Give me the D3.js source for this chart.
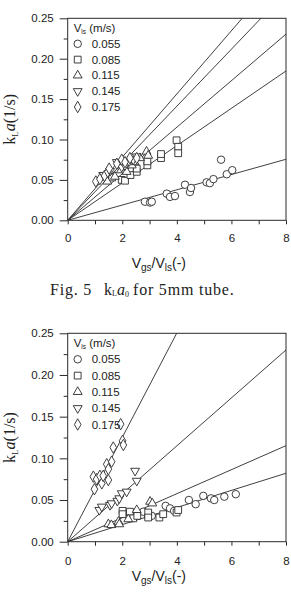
<!DOCTYPE html>
<html><head><meta charset="utf-8">
<script src="https://cdn.jsdelivr.net/npm/d3@7"></script>
<style>
body{margin:0;background:#fff;}
svg{display:block;}
text{fill:#222;}
</style></head>
<body>
<svg id="c" width="291" height="599"></svg>
<script>
// ---- data ----
const seriesLabels = ["0.055","0.085","0.115","0.145","0.175"];
const symbols = ["circle","square","triUp","triDown","diamond"];
const xTicks = [0,2,4,6,8];
const yTicks = [0.00,0.05,0.10,0.15,0.20,0.25];

// top chart (Fig. 5)
const t055x = [2.83,3.02,3.08,3.63,3.75,3.93,4.30,4.48,4.52,5.09,5.21,5.34,5.62,5.83,6.03];
const t055y = [0.023,0.022,0.023,0.033,0.029,0.030,0.044,0.035,0.040,0.047,0.046,0.051,0.075,0.057,0.062];
const t085x = [1.63,1.98,2.10,2.30,2.53,2.53,2.92,2.92,3.42,3.42,3.99,4.05,4.05];
const t085y = [0.053,0.050,0.049,0.056,0.060,0.064,0.068,0.073,0.077,0.082,0.099,0.091,0.083];
const t115x = [1.45,1.73,1.95,2.16,2.35,2.45,2.65,2.89,2.95];
const t115y = [0.048,0.054,0.062,0.060,0.068,0.072,0.077,0.085,0.080];
const t145x = [1.30,1.55,1.80,1.98,2.10,2.25,2.40,2.53];
const t145y = [0.056,0.061,0.072,0.066,0.068,0.073,0.075,0.079];
const t175x = [1.03,1.18,1.35,1.47,1.52,1.80,1.98,2.10,2.28,2.53];
const t175y = [0.048,0.051,0.055,0.060,0.064,0.070,0.075,0.072,0.077,0.077];
const topSlopes = [0.00944,0.0231,0.0288,0.0353,0.0391];

// bottom chart
const b055x = [2.77,2.95,3.08,3.59,3.75,3.90,4.44,4.69,4.97,5.25,5.37,5.74,6.16];
const b055y = [0.036,0.030,0.031,0.043,0.040,0.037,0.050,0.045,0.055,0.052,0.050,0.054,0.057];
const b085x = [2.01,2.01,2.28,2.40,2.55,2.95,2.95,3.36,3.50,3.99,4.05];
const b085y = [0.037,0.033,0.036,0.028,0.031,0.035,0.029,0.029,0.033,0.035,0.038];
const b115x = [1.49,1.60,1.86,1.89,2.22,2.53,3.02,3.10];
const b115y = [0.021,0.020,0.024,0.021,0.027,0.038,0.048,0.046];
const b145x = [1.16,1.25,1.55,1.61,1.82,1.89,1.98,2.16,2.47,2.53];
const b145y = [0.038,0.042,0.044,0.046,0.049,0.052,0.058,0.060,0.085,0.073];
const b175x = [0.94,0.98,1.06,1.18,1.25,1.30,1.43,1.49,1.49,1.61,1.67,1.94,2.01,2.04];
const b175y = [0.078,0.063,0.075,0.079,0.070,0.079,0.093,0.087,0.074,0.096,0.113,0.141,0.121,0.116];
const botSlopes = [0.01026,0.0144,0.02875,0.0626];

// ---- drawing ----
const svg = d3.select("#c");
const INK = "#2a2a2a";
const SANS = "'Liberation Sans', Arial, sans-serif";
const SERIF = "'Liberation Serif', 'Times New Roman', serif";

function symPath(kind){
  switch(kind){
    case "circle": return d3.symbol(d3.symbolCircle, 44)();
    case "square": return d3.symbol(d3.symbolSquare, 46)();
    case "triUp": return d3.symbol(d3.symbolTriangle, 34)();
    case "triDown": return d3.symbol(d3.symbolTriangle, 34)();
    case "diamond": return d3.symbol(d3.symbolDiamond, 38)();
  }
}
function symTransform(kind,x,y){
  return `translate(${x},${y})` + (kind==="triDown" ? " rotate(180)" : "");
}

function drawChart(cfg){
  const g = svg.append("g");
  const x = d3.scaleLinear().domain([0,8]).range([cfg.left,cfg.right]);
  const y = d3.scaleLinear().domain([0,0.25]).range([cfg.bottom,cfg.top]);

  // clip
  const cid = "clip"+cfg.id;
  svg.append("clipPath").attr("id",cid).append("rect")
    .attr("x",cfg.left).attr("y",cfg.top)
    .attr("width",cfg.right-cfg.left).attr("height",cfg.bottom-cfg.top);

  // axes
  const yAxis = d3.axisLeft(y).tickValues(d3.range(0,0.2501,0.025)).tickSize(0).tickFormat("");
  const ya = g.append("g").attr("transform",`translate(${cfg.left},0)`).call(yAxis);
  ya.select(".domain").remove();
  ya.selectAll(".tick line").remove();
  ya.selectAll(".tick").append("line")
    .attr("x1",(d,i)=> i%2===0 ? -8 : -4).attr("x2",0)
    .attr("stroke",INK).attr("stroke-width",1);
  const yl = g.append("g").attr("transform",`translate(${cfg.left},0)`)
    .call(d3.axisLeft(y).tickValues(yTicks).tickSize(0).tickPadding(14).tickFormat(d3.format(".2f")));
  yl.select(".domain").remove();
  yl.selectAll("text").attr("font-family",SANS).attr("font-size",11.5).attr("fill","#222");

  const xAxis = d3.axisBottom(x).tickValues(d3.range(0,8.01,1)).tickSize(4).tickFormat("");
  const xa = g.append("g").attr("transform",`translate(0,${cfg.bottom})`).call(xAxis);
  xa.select(".domain").remove();
  xa.selectAll(".tick line").attr("stroke",INK);
  const xl = g.append("g").attr("transform",`translate(0,${cfg.bottom})`)
    .call(d3.axisBottom(x).tickValues(xTicks).tickSize(0).tickPadding(cfg.xPad).tickFormat(d3.format("d")));
  xl.select(".domain").remove();
  xl.selectAll("text").attr("font-family",SANS).attr("font-size",11.5).attr("fill","#222");

  // frame
  g.append("rect").attr("x",cfg.left).attr("y",cfg.top)
    .attr("width",cfg.right-cfg.left).attr("height",cfg.bottom-cfg.top)
    .attr("fill","none").attr("stroke",INK).attr("stroke-width",1);

  // fit lines
  const lines = g.append("g").attr("clip-path",`url(#${cid})`);
  cfg.slopes.forEach(s=>{
    lines.append("line")
      .attr("x1",x(0)).attr("y1",y(0))
      .attr("x2",x(8)).attr("y2",y(8*s))
      .attr("stroke",INK).attr("stroke-width",0.9);
  });

  // points
  const pts = g.append("g");
  cfg.series.forEach((s,i)=>{
    s.x.forEach((xv,j)=>{
      pts.append("path").attr("d",symPath(symbols[i]))
        .attr("transform",symTransform(symbols[i],x(xv),y(s.y[j])))
        .attr("fill","#fff").attr("stroke",INK).attr("stroke-width",0.9);
    });
  });

  // legend
  const lg = g.append("g");
  const t = lg.append("text").attr("x",cfg.left+6).attr("y",cfg.legTop)
    .attr("font-family",SANS).attr("font-size",11.5);
  t.append("tspan").text("V");
  t.append("tspan").attr("font-size",6.5).attr("dy",2).text("ls");
  t.append("tspan").attr("dy",-2).text(" (m/s)");
  seriesLabels.forEach((lab,i)=>{
    const yy = cfg.legTop + cfg.legStep*(i+1);
    lg.append("path").attr("d",symPath(symbols[i]))
      .attr("transform",symTransform(symbols[i],cfg.left+10,yy-4))
      .attr("fill","#fff").attr("stroke",INK).attr("stroke-width",0.9);
    lg.append("text").attr("x",cfg.left+24).attr("y",yy)
      .attr("font-family",SANS).attr("font-size",11.5).text(lab);
  });

  // y label
  const ylab = g.append("text")
    .attr("transform",`translate(${cfg.ylabX},${(cfg.top+cfg.bottom)/2}) rotate(-90)`)
    .attr("text-anchor","middle").attr("font-family",SERIF).attr("font-size",16);
  ylab.append("tspan").text("k");
  ylab.append("tspan").attr("font-size",9).attr("dy",3).text("L");
  ylab.append("tspan").attr("dy",-3).attr("font-style","italic").text("a");
  ylab.append("tspan").text("(1/s)");

  // x label
  const xlab = g.append("text").attr("x",(cfg.left+cfg.right)/2-18).attr("y",cfg.xlabY)
    .attr("text-anchor","middle").attr("font-family",SANS).attr("font-size",14);
  xlab.append("tspan").text("V");
  xlab.append("tspan").attr("font-size",10).attr("dy",3).text("gs");
  xlab.append("tspan").attr("dy",-3).text("/V");
  xlab.append("tspan").attr("font-size",10).attr("dy",3).text("ls");
  xlab.append("tspan").attr("dy",-3).text("(-)");
}

drawChart({
  id:"top", left:67.7, right:286, top:18.3, bottom:220.3, xPad:14,
  slopes: topSlopes,
  series: [{x:t055x,y:t055y},{x:t085x,y:t085y},{x:t115x,y:t115y},{x:t145x,y:t145y},{x:t175x,y:t175y}],
  legTop: 32, legStep: 15.8, ylabX: 15, xlabY: 268
});
drawChart({
  id:"bot", left:67.7, right:286, top:333.3, bottom:541.7, xPad:15,
  slopes: botSlopes,
  series: [{x:b055x,y:b055y},{x:b085x,y:b085y},{x:b115x,y:b115y},{x:b145x,y:b145y},{x:b175x,y:b175y}],
  legTop: 347, legStep: 16.3, ylabX: 15, xlabY: 581
});

// caption for top figure
const cap = svg.append("g").attr("font-family",SERIF).attr("font-size",16);
cap.append("text").attr("x",50).attr("y",295).attr("letter-spacing","0.8").text("Fig. 5");
const k = cap.append("text").attr("x",104).attr("y",295);
k.append("tspan").text("k");
k.append("tspan").attr("font-size",8).attr("dy",1).text("L");
k.append("tspan").attr("dy",-1).attr("font-style","italic").text("a");
k.append("tspan").attr("font-size",8).attr("dy",2).text("0");
cap.append("text").attr("x",133).attr("y",295).attr("letter-spacing","0.8").text("for 5mm tube.");
</script>
</body></html>
